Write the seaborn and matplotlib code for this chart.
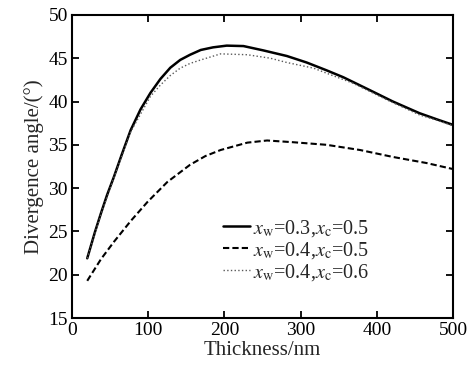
import numpy as np
import pandas as pd
import matplotlib
matplotlib.use("Agg")
import matplotlib.pyplot as plt
import seaborn as sns

# curve data
thick_a = [20, 30, 38, 46, 55, 65, 77, 90, 103, 116, 129, 142, 155, 169, 185, 203,
           225, 251, 282, 308, 334, 356, 391, 421, 456, 480, 500]
angle_a = [21.9, 24.9, 27.1, 29.2, 31.3, 33.8, 36.7, 39.1, 41.0, 42.6, 43.9, 44.8,
           45.4, 45.95, 46.25, 46.45, 46.4, 45.9, 45.25, 44.5, 43.6, 42.8, 41.3, 40.0,
           38.65, 37.9, 37.3]

thick_b = [20, 38, 55, 77, 99, 125, 155, 175, 195, 230, 256, 290, 334, 378, 421, 465, 500]
angle_b = [19.3, 21.8, 23.8, 26.2, 28.4, 30.7, 32.7, 33.7, 34.4, 35.25, 35.5, 35.3,
           35.0, 34.4, 33.6, 32.9, 32.2]

thick_c = [20, 38, 55, 77, 103, 116, 129, 142, 155, 169, 195, 230, 260, 282, 317,
           336, 369, 413, 456, 480, 500]
angle_c = [21.9, 27.0, 31.2, 36.5, 40.6, 41.9, 43.0, 43.85, 44.4, 44.8, 45.5, 45.4,
           45.0, 44.5, 43.85, 43.2, 42.1, 40.2, 38.45, 37.8, 37.2]

labels = [r"$x_\mathrm{w}$=0.3,$x_\mathrm{c}$=0.5",
          r"$x_\mathrm{w}$=0.4,$x_\mathrm{c}$=0.5",
          r"$x_\mathrm{w}$=0.4,$x_\mathrm{c}$=0.6"]

df = pd.concat([
    pd.DataFrame({"t": thick_a, "a": angle_a, "s": labels[0]}),
    pd.DataFrame({"t": thick_b, "a": angle_b, "s": labels[1]}),
    pd.DataFrame({"t": thick_c, "a": angle_c, "s": labels[2]}),
])

sns.set_theme(style="ticks")
plt.rcParams["font.family"] = ["Liberation Serif", "DejaVu Serif"]
plt.rcParams["mathtext.fontset"] = "stix"

fig, ax = plt.subplots(figsize=(4.69, 3.72), dpi=100)
fig.subplots_adjust(left=0.1535, right=0.966, top=0.96, bottom=0.145)

styles = {labels[0]: ("-", 1.8, "black"),
          labels[1]: ((0, (3, 1.5)), 1.5, "black"),
          labels[2]: (":", 1.0, "0.35")}
for lab in labels:
    ls, lw, col = styles[lab]
    sns.lineplot(data=df[df.s == lab], x="t", y="a", ax=ax, color=col,
                 linestyle=ls, linewidth=lw, label=lab)

ax.set_xlim(0, 500)
ax.set_ylim(15, 50)
ax.set_xticks([0, 100, 200, 300, 400, 500])
ax.set_yticks([15, 20, 25, 30, 35, 40, 45, 50])
ax.tick_params(direction="in", labelsize=14, length=5, width=1.3, colors="black",
               top=True, right=True, pad=3)
ax.set_xlabel("Thickness/nm", fontsize=15, labelpad=1)
ax.set_ylabel("Divergence angle/(°)", fontsize=15, labelpad=3)
for sp in ax.spines.values():
    sp.set_linewidth(1.5)
    sp.set_color("black")

leg = ax.legend(loc="lower right", bbox_to_anchor=(0.8, 0.09), frameon=False,
                fontsize=14.5, handlelength=1.3, handletextpad=0.15,
                labelspacing=0.05, borderaxespad=0)

fig.savefig("out.png", dpi=100)
